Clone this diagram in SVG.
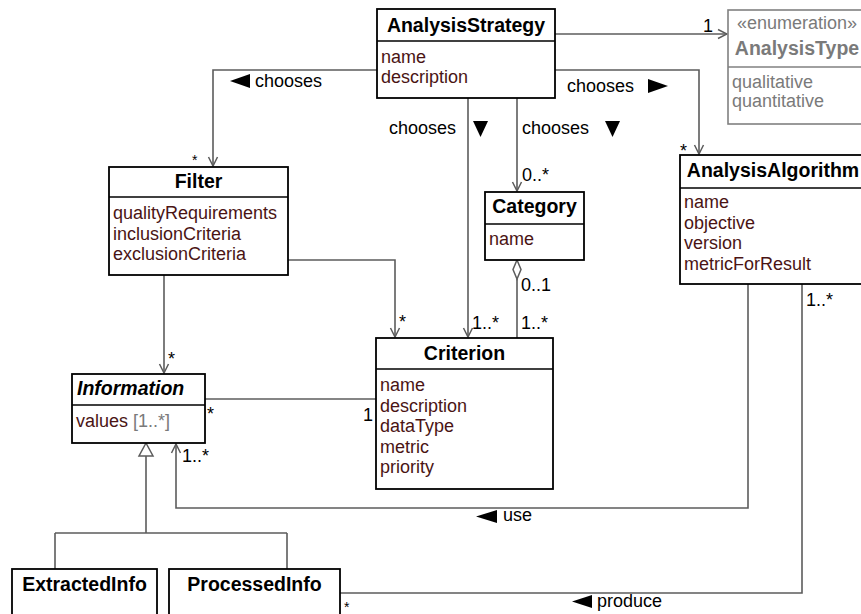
<svg xmlns="http://www.w3.org/2000/svg" width="861" height="614" viewBox="0 0 861 614">
  <style>
    .box { fill: #ffffff; stroke: #000000; stroke-width: 1.8; }
    .sep { stroke: #000000; stroke-width: 1.6; }
    .enumbox { fill: #ffffff; stroke: #808080; stroke-width: 1.6; }
    .enumsep { stroke: #808080; stroke-width: 1.4; }
    .title { font-family: "Liberation Sans", Arial, sans-serif; font-size: 19.5px; font-weight: bold; fill: #000000; }
    .attr { font-family: "Liberation Sans", Arial, sans-serif; font-size: 18px; fill: #4a1414; }
    .grey { font-family: "Liberation Sans", Arial, sans-serif; font-size: 18px; fill: #7a7a7a; }
    .label { font-family: "Liberation Sans", Arial, sans-serif; font-size: 18px; fill: #000000; }
    .star { font-family: "Liberation Sans", Arial, sans-serif; font-size: 14px; fill: #000000; }
    .conn { fill: none; stroke: #5c5c5c; stroke-width: 1.6; }
    .dir { fill: #000000; }
  </style>
  <defs>
    <marker id="open" viewBox="-11 -6 12 12" refX="0" refY="0" markerWidth="12" markerHeight="12" markerUnits="userSpaceOnUse" orient="auto">
      <path d="M-9,-4.5 L0,0 L-9,4.5" fill="none" stroke="#5c5c5c" stroke-width="1.5"/>
    </marker>
  </defs>

  <!-- connectors -->
  <g id="connectors">
    <!-- AnalysisStrategy -> AnalysisType -->
    <path class="conn" d="M555,34 H727" marker-end="url(#open)"/>
    <!-- AnalysisStrategy -> AnalysisAlgorithm -->
    <path class="conn" d="M555,70 H699 V154" marker-end="url(#open)"/>
    <!-- AnalysisStrategy -> Filter -->
    <path class="conn" d="M377,70 H213 V166" marker-end="url(#open)"/>
    <!-- AnalysisStrategy -> Criterion -->
    <path class="conn" d="M468,98 V337" marker-end="url(#open)"/>
    <!-- AnalysisStrategy -> Category -->
    <path class="conn" d="M517,98 V191" marker-end="url(#open)"/>
    <!-- Filter -> Criterion -->
    <path class="conn" d="M288,260 H395 V337" marker-end="url(#open)"/>
    <!-- Filter -> Information -->
    <path class="conn" d="M164,275 V373" marker-end="url(#open)"/>
    <!-- Category aggregates Criterion -->
    <path class="conn" d="M517,279 V338"/>
    <path d="M517,260 L521,269.5 L517,279 L513,269.5 Z" fill="#ffffff" stroke="#5c5c5c" stroke-width="1.5"/>
    <!-- Information - Criterion -->
    <path class="conn" d="M205,399 H376"/>
    <!-- AnalysisAlgorithm uses Information -->
    <path class="conn" d="M748,284 V508 H176 V444" marker-end="url(#open)"/>
    <!-- AnalysisAlgorithm produces ProcessedInfo -->
    <path class="conn" d="M802,284 V593 H340"/>
    <!-- generalization -->
    <path class="conn" d="M146,456 V533 M55,533 H287 M55,533 V569 M287,533 V569"/>
    <path d="M146,443 L153,456 L139,456 Z" fill="#ffffff" stroke="#5c5c5c" stroke-width="1.5"/>

    <!-- association names with reading direction -->
    <polygon class="dir" points="230,81 250,74 250,88"/>
    <text class="label" x="255" y="87">chooses</text>
    <text class="label" x="567" y="92">chooses</text>
    <polygon class="dir" points="648,79 668,86 648,93"/>
    <text class="label" x="389" y="134">chooses</text>
    <polygon class="dir" points="473,121 488,121 480.5,137"/>
    <text class="label" x="522" y="134">chooses</text>
    <polygon class="dir" points="605,121 620,121 612.5,137"/>
    <polygon class="dir" points="476,516.5 497,510 497,523"/>
    <text class="label" x="503" y="521">use</text>
    <polygon class="dir" points="572,601.5 592,595 592,608"/>
    <text class="label" x="597" y="607">produce</text>

    <!-- multiplicities -->
    <text class="label" x="703" y="32">1</text>
    <text class="label" x="680" y="157">*</text>
    <text class="star" x="192" y="165">*</text>
    <text class="label" x="522" y="181">0..*</text>
    <text class="label" x="521" y="291">0..1</text>
    <text class="label" x="399" y="328">*</text>
    <text class="label" x="472" y="329">1..*</text>
    <text class="label" x="521" y="329">1..*</text>
    <text class="label" x="806" y="306">1..*</text>
    <text class="label" x="168" y="365">*</text>
    <text class="label" x="207" y="420">*</text>
    <text class="label" x="363" y="421">1</text>
    <text class="label" x="182" y="462">1..*</text>
    <text class="star" x="344" y="612">*</text>
  </g>

  <g id="AnalysisStrategy">
    <rect class="box" x="377" y="9" width="178" height="89"/>
    <line class="sep" x1="377" y1="41" x2="555" y2="41"/>
    <text class="title" x="466" y="32" text-anchor="middle">AnalysisStrategy</text>
    <text class="attr" x="381" y="63">name</text>
    <text class="attr" x="381" y="83">description</text>
  </g>

  <g id="AnalysisType">
    <rect class="enumbox" x="728" y="10" width="138" height="114"/>
    <line class="enumsep" x1="728" y1="67" x2="866" y2="67"/>
    <text class="grey" x="797" y="29" text-anchor="middle">«enumeration»</text>
    <text class="title" x="797" y="55" text-anchor="middle" style="fill:#7a7a7a">AnalysisType</text>
    <text class="grey" x="732" y="88">qualitative</text>
    <text class="grey" x="732" y="107">quantitative</text>
  </g>

  <g id="Filter">
    <rect class="box" x="109" y="167" width="179" height="108"/>
    <line class="sep" x1="109" y1="197" x2="288" y2="197"/>
    <text class="title" x="198.5" y="188" text-anchor="middle">Filter</text>
    <text class="attr" x="113" y="219">qualityRequirements</text>
    <text class="attr" x="113" y="239.5">inclusionCriteria</text>
    <text class="attr" x="113" y="260">exclusionCriteria</text>
  </g>

  <g id="Category">
    <rect class="box" x="485" y="192" width="99" height="68"/>
    <line class="sep" x1="485" y1="224" x2="584" y2="224"/>
    <text class="title" x="534.5" y="213" text-anchor="middle">Category</text>
    <text class="attr" x="489" y="245">name</text>
  </g>

  <g id="AnalysisAlgorithm">
    <rect class="box" x="680" y="155" width="186" height="129"/>
    <line class="sep" x1="680" y1="188" x2="866" y2="188"/>
    <text class="title" x="773" y="177" text-anchor="middle">AnalysisAlgorithm</text>
    <text class="attr" x="684" y="208">name</text>
    <text class="attr" x="684" y="228.5">objective</text>
    <text class="attr" x="684" y="249">version</text>
    <text class="attr" x="684" y="269.5">metricForResult</text>
  </g>

  <g id="Criterion">
    <rect class="box" x="376" y="338" width="177" height="151"/>
    <line class="sep" x1="376" y1="369" x2="553" y2="369"/>
    <text class="title" x="464.5" y="360" text-anchor="middle">Criterion</text>
    <text class="attr" x="380" y="391">name</text>
    <text class="attr" x="380" y="411.5">description</text>
    <text class="attr" x="380" y="432">dataType</text>
    <text class="attr" x="380" y="452.5">metric</text>
    <text class="attr" x="380" y="473">priority</text>
  </g>

  <g id="Information">
    <rect class="box" x="72" y="374" width="133" height="69"/>
    <line class="sep" x1="72" y1="405" x2="205" y2="405"/>
    <text class="title" x="77" y="395" font-style="italic">Information</text>
    <text class="attr" x="76" y="427">values <tspan fill="#7a7a7a">[1..*]</tspan></text>
  </g>

  <g id="ExtractedInfo">
    <rect class="box" x="12" y="569" width="145" height="60"/>
    <text class="title" x="84.5" y="591" text-anchor="middle">ExtractedInfo</text>
  </g>

  <g id="ProcessedInfo">
    <rect class="box" x="169" y="569" width="171" height="60"/>
    <text class="title" x="254.5" y="591" text-anchor="middle">ProcessedInfo</text>
  </g>
</svg>
